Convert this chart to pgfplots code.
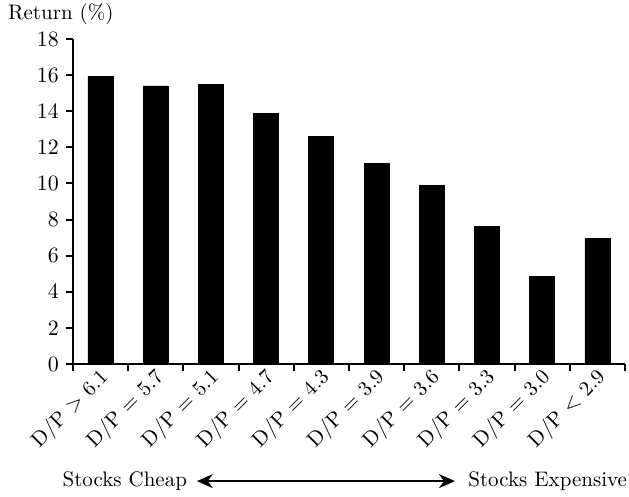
\documentclass[border=0pt]{standalone}
\usepackage{pgfplots}
\pgfplotsset{compat=1.18}
\usetikzlibrary{arrows.meta}

\begin{document}
\begin{tikzpicture}
\begin{axis}[
    scale only axis,
    width=276pt, height=162.5pt,
    font=\fontsize{10.5}{12}\selectfont,
    xmin=-0.5, xmax=9.5,
    ymin=0, ymax=18,
    ytick={0,2,...,18},
    xtick={0,...,9},
    xticklabels={D/P $>$ 6.1, D/P $=$ 5.7, D/P $=$ 5.1, D/P $=$ 4.7, D/P $=$ 4.3,
                 D/P $=$ 3.9, D/P $=$ 3.6, D/P $=$ 3.3, D/P $=$ 3.0, D/P $<$ 2.9},
    minor xtick={-0.5,0.5,...,9.5},
    major x tick style={draw=none},
    minor tick length=3.5pt,
    major tick length=3.5pt,
    tick align=outside,
    tick style={line width=1pt, black},
    axis x line*=bottom,
    axis y line*=left,
    axis line style={-, line width=1.2pt},
    xticklabel style={rotate=45, anchor=east, xshift=4pt, yshift=-3pt},
    clip=false,
]
\addplot[ybar, bar width=12.5pt, fill=black, draw=black] coordinates {
    (0,15.95) (1,15.4) (2,15.5) (3,13.9) (4,12.6)
    (5,11.1) (6,9.9) (7,7.6) (8,4.85) (9,6.95)
};
\path (rel axis cs:-0.132,-0.406) rectangle (rel axis cs:1.0072,1.12);
\node[anchor=west, inner sep=0pt] at (rel axis cs:-0.118,1.077) {Return (\%)};
\node[inner sep=0pt] at (rel axis cs:0.094,-0.36) {Stocks Cheap};
\node[inner sep=0pt] at (rel axis cs:0.86,-0.36) {Stocks Expensive};
\draw[line width=1pt, {Stealth[length=8pt,width=7pt]}-{Stealth[length=8pt,width=7pt]}]
    (rel axis cs:0.2246,-0.36) -- (rel axis cs:0.692,-0.36);
\end{axis}
\end{tikzpicture}
\end{document}
